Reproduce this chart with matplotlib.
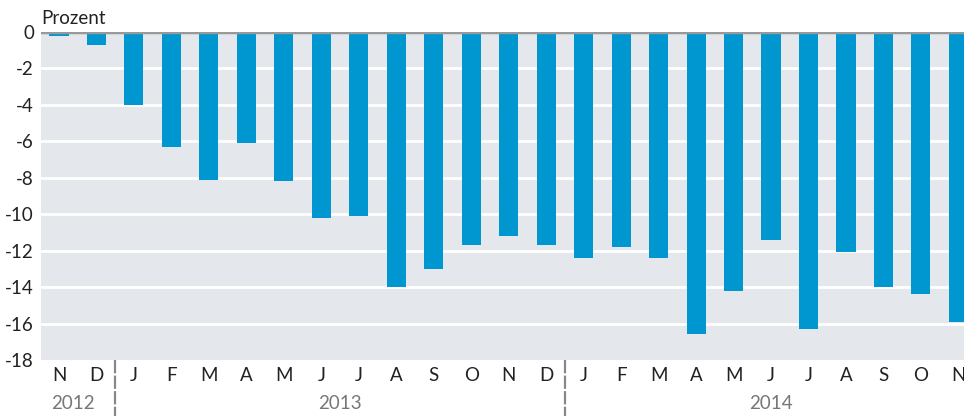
import numpy as np
import matplotlib.pyplot as plt

# monthly values, Nov 2012 - Nov 2014
months = ['N', 'D',
          'J', 'F', 'M', 'A', 'M', 'J', 'J', 'A', 'S', 'O', 'N', 'D',
          'J', 'F', 'M', 'A', 'M', 'J', 'J', 'A', 'S', 'O', 'N']
values = [-0.2, -0.7,
          -4.0, -6.3, -8.1, -6.1, -8.2, -10.2, -10.1, -14.0, -13.0, -11.7, -11.2, -11.7,
          -12.4, -11.8, -12.4, -16.6, -14.2, -11.4, -16.3, -12.1, -14.0, -14.4, -15.9]
years = ['2012', '2013', '2014']
year_pos = [0.36, 7.5, 19.0]
year_breaks = [1.5, 13.5]
yticks = [0, -2, -4, -6, -8, -10, -12, -14, -16, -18]

plt.rcParams['font.family'] = ['Lato', 'DejaVu Sans']
fs = 13.5

fig = plt.figure(figsize=(9.64, 4.16), dpi=100)
ax = fig.add_axes([41 / 964, 1 - 360 / 416, 1 - 41 / 964, 328 / 416])
ax.set_facecolor('#e4e8ec')

x = np.arange(len(values))
ax.bar(x, values, width=0.51, color='#0097d0', zorder=3)

ax.set_xlim(-0.48, 24.15)
ax.set_ylim(-18, 0)
ax.set_yticks(yticks)
ax.set_yticklabels([str(t) for t in yticks], fontsize=fs, color='#222222')
for t in yticks[1:-1]:
    ax.axhline(t, color='white', lw=2, zorder=2)
ax.axhline(0, color='#999999', lw=2.5, zorder=4)

ax.set_xticks(x)
ax.set_xticklabels(months, fontsize=fs, color='#222222')
ax.tick_params(axis='both', length=0, pad=5)
for s in ax.spines.values():
    s.set_visible(False)

for xb in year_breaks:
    ax.plot([xb, xb], [-18, -21.1], color='#888888', lw=1.6,
            ls=(0, (6, 1)), clip_on=False)
for yl, yp in zip(years, year_pos):
    ax.text(yp, -20.4, yl, ha='center', va='center', fontsize=fs,
            color='#777777')

fig.text(41 / 964, 1 - 19 / 416, 'Prozent', ha='left', va='center',
         fontsize=fs, color='#222222')

fig.savefig('out.png', dpi=100)
